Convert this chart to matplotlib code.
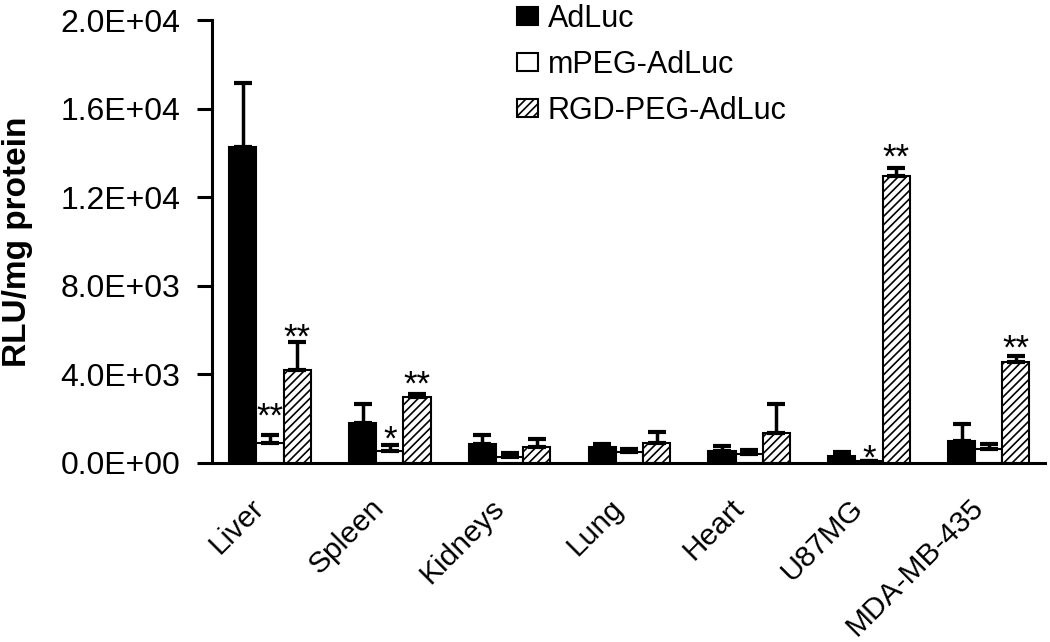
import matplotlib
matplotlib.use("Agg")
import matplotlib.pyplot as plt
import matplotlib.ticker as ticker
import matplotlib.transforms as mtransforms
import numpy as np

plt.rcParams['font.family'] = ['Liberation Sans', 'DejaVu Sans']
plt.rcParams['hatch.linewidth'] = 1.2

# Data (RLU/mg protein)
tissues = ['Liver', 'Spleen', 'Kidneys', 'Lung', 'Heart', 'U87MG', 'MDA-MB-435']
series = ['AdLuc', 'mPEG-AdLuc', 'RGD-PEG-AdLuc']

adluc = [14270, 1800, 860, 720, 540, 320, 990]
adluc_err = [2890, 860, 400, 140, 230, 180, 770]
mpeg = [900, 540, 270, 500, 410, 90, 630]
mpeg_err = [360, 270, 180, 130, 180, 0, 230]
rgd = [4200, 2980, 720, 900, 1350, 12960, 4560]
rgd_err = [1260, 140, 360, 500, 1310, 360, 270]

# significance marks: (tissue index, series index, y level, text)
star_tissue = [0, 0, 1, 1, 5, 5, 6]
star_series = [1, 2, 1, 2, 1, 2, 2]
star_y = [2520, 6080, 1490, 3960, 630, 14200, 5580]
star_text = ['**', '**', '*', '**', '*', '**', '**']

fig = plt.figure(figsize=(10.5, 6.42), dpi=100)
ax = fig.add_axes([212 / 1050, 1 - 463 / 642, (1045 - 212) / 1050, (463 - 20) / 642])

x = np.arange(len(tissues))
w = 0.227
values = [adluc, mpeg, rgd]
errors = [adluc_err, mpeg_err, rgd_err]
faces = ['black', 'white', 'white']
hatches = [None, None, '////']

for k in range(3):
    pos = x + (k - 1) * w
    ax.bar(pos, values[k], width=w, color=faces[k], edgecolor='black',
           linewidth=1.5, hatch=hatches[k], label=series[k], zorder=2)
    lower = np.zeros(len(tissues))
    ax.errorbar(pos, values[k], yerr=[lower, errors[k]], fmt='none',
                ecolor='black', elinewidth=2.5, capsize=6.5, capthick=3,
                zorder=3)

for t, s, y, txt in zip(star_tissue, star_series, star_y, star_text):
    ax.annotate(txt, xy=(x[t] + (s - 1) * w, y), xytext=(0, -14),
                textcoords='offset points', ha='center', va='baseline',
                fontsize=25)

ax.set_xlim(-0.485, 6.47)
ax.set_ylim(0, 20000)
ax.yaxis.set_major_locator(ticker.MultipleLocator(4000))


def sci_fmt(v, pos):
    if v == 0:
        return '0.0E+00'
    e = int(np.floor(np.log10(abs(v))))
    m = v / 10 ** e
    return f'{m:.1f}E+{e:02d}'


ax.yaxis.set_major_formatter(ticker.FuncFormatter(sci_fmt))

for side in ['top', 'right']:
    ax.spines[side].set_visible(False)
for side in ['left', 'bottom']:
    ax.spines[side].set_linewidth(2.2)

ax.tick_params(axis='y', direction='out', length=10.8, width=2.2,
               labelsize=23, pad=12)
ax.set_xticks(x)
ax.set_xticklabels(tissues, rotation=45, ha='right', va='top',
                   rotation_mode='anchor', fontsize=21.5)
ax.tick_params(axis='x', length=0, pad=22)
shift = mtransforms.ScaledTranslation(-0.2, 0, fig.dpi_scale_trans)
for lab in ax.get_xticklabels():
    lab.set_transform(lab.get_transform() + shift)

ax.set_ylabel('RLU/mg protein', fontsize=24, fontweight='bold')
ax.yaxis.set_label_coords(-0.215, 0.5)

ax.legend(loc='upper left', bbox_to_anchor=(517 / 1050, 1 - 4 / 642),
          bbox_transform=fig.transFigure, frameon=False, fontsize=22,
          handlelength=0.7, handleheight=0.5, handletextpad=0.3,
          labelspacing=0.52, borderpad=0, borderaxespad=0)

fig.savefig('out.png', dpi=100)
